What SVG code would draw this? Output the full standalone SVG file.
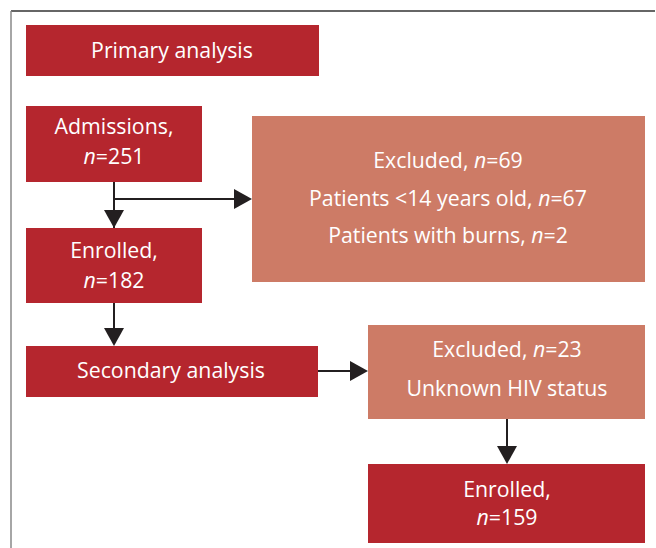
<svg xmlns="http://www.w3.org/2000/svg" width="656" height="548" viewBox="0 0 656 548">
<defs>
<style>
.dark{fill:#b5262e}
.light{fill:#cd7b66}
text{font-family:"Open Sans","Noto Sans","DejaVu Sans",sans-serif;font-size:21.3px;fill:#ffffff;text-anchor:middle}
.i{font-style:italic}
.c{stroke:#231f20;stroke-width:2;fill:none}
.h{fill:#231f20}
</style>
</defs>
<rect width="656" height="548" fill="#ffffff"/>
<line x1="11" y1="11" x2="655" y2="11" stroke="#333333" stroke-width="1.5"/>
<line x1="11" y1="11" x2="11" y2="548" stroke="#888888" stroke-width="1.5"/>
<g id="connectors">
<path class="c" d="M114,182 V228"/>
<path class="h" d="M104,210 L124,210 L114,228 Z"/>
<path class="c" d="M114,199 H236"/>
<path class="h" d="M234,189 L252,199 L234,209 Z"/>
<path class="c" d="M114,303 V330"/>
<path class="h" d="M104,328 L124,328 L114,346 Z"/>
<path class="c" d="M318,371 H352"/>
<path class="h" d="M350,361 L368,371 L350,381 Z"/>
<path class="c" d="M507,419 V448"/>
<path class="h" d="M497,446 L517,446 L507,464 Z"/>
</g>
<g id="primary">
<rect class="dark" x="26" y="25" width="293" height="51"/>
<text x="172" y="58">Primary analysis</text>
</g>
<g id="admissions">
<rect class="dark" x="26" y="106" width="176" height="76"/>
<text x="114" y="134">Admissions,</text>
<text x="114" y="164"><tspan class="i">n</tspan>=251</text>
</g>
<g id="excluded69">
<rect class="light" x="252" y="116" width="393" height="166"/>
<text x="448" y="168">Excluded, <tspan class="i">n</tspan>=69</text>
<text x="448" y="206">Patients &lt;14 years old, <tspan class="i">n</tspan>=67</text>
<text x="448" y="243">Patients with burns, <tspan class="i">n</tspan>=2</text>
</g>
<g id="enrolled182">
<rect class="dark" x="26" y="228" width="176" height="75"/>
<text x="114" y="258">Enrolled,</text>
<text x="114" y="288"><tspan class="i">n</tspan>=182</text>
</g>
<g id="secondary">
<rect class="dark" x="26" y="346" width="292" height="51"/>
<text x="171" y="378">Secondary analysis</text>
</g>
<g id="excluded23">
<rect class="light" x="368" y="325" width="277" height="94"/>
<text x="507" y="357">Excluded, <tspan class="i">n</tspan>=23</text>
<text x="507" y="396">Unknown HIV status</text>
</g>
<g id="enrolled159">
<rect class="dark" x="368" y="464" width="277" height="79"/>
<text x="507" y="497">Enrolled,</text>
<text x="507" y="525"><tspan class="i">n</tspan>=159</text>
</g>
</svg>
